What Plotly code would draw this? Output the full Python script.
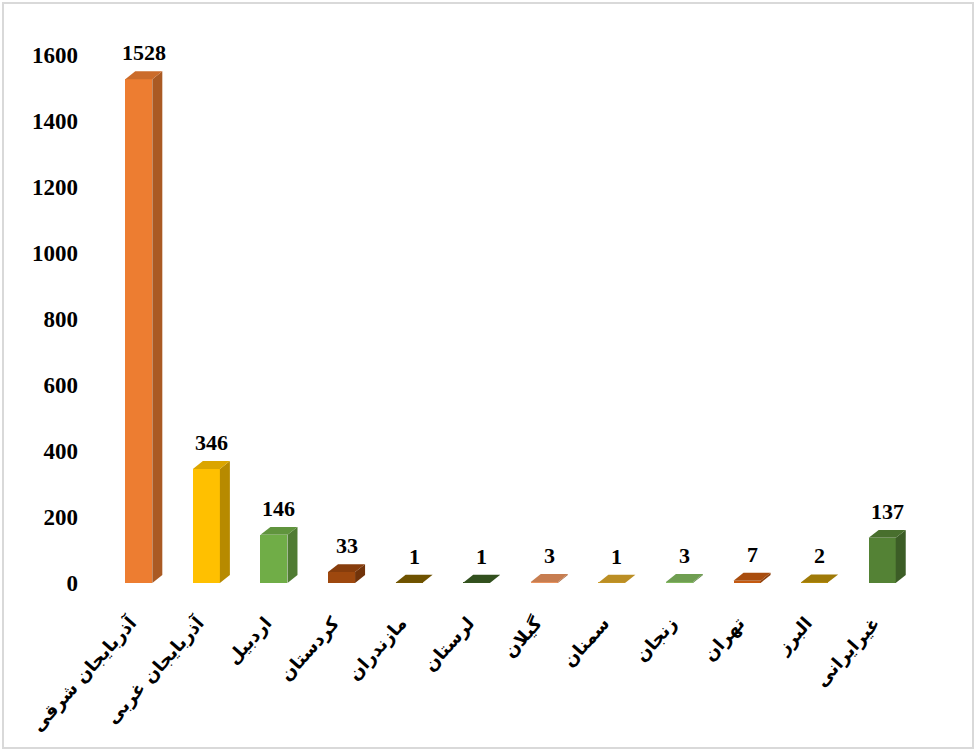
import plotly.graph_objects as go

categories = ["آذربایجان شرقی", "آذربایجان غربی", "اردبیل", "کردستان", "مازندران", "لرستان",
              "گیلان", "سمنان", "زنجان", "تهران", "البرز", "غیرایرانی"]
values = [1528, 346, 146, 33, 1, 1, 3, 1, 3, 7, 2, 137]
front_colors = ["#ED7D31", "#FFC000", "#70AD47", "#9E480E", "#806000", "#3B5E23",
                "#E8925E", "#DAA62A", "#82B85F", "#C55A11", "#B98F0A", "#548235"]
y_ticks = [0, 200, 400, 600, 800, 1000, 1200, 1400, 1600]

W, H = 977, 752
ML, MR, MT, MB = 105, 61, 30, 169
Y_MAX = 1677
BAR_W = 0.40
DX = 0.148   # depth offset in category units
DY = 24      # depth offset in value units
LABEL_SHIFT = 0.12


def shade(hexc, f):
    h = hexc.lstrip("#")
    r, g, b = (int(h[i:i + 2], 16) for i in (0, 2, 4))
    return "#%02X%02X%02X" % (int(r * f), int(g * f), int(b * f))


fig = go.Figure()
xs = list(range(len(categories)))

fig.add_trace(go.Bar(x=xs, y=values, width=BAR_W, marker=dict(color=front_colors, line=dict(width=0)),
                     hoverinfo="skip", showlegend=False))

for i, (v, c) in enumerate(zip(values, front_colors)):
    x0, x1 = i - BAR_W / 2, i + BAR_W / 2
    # side face
    fig.add_trace(go.Scatter(x=[x1, x1 + DX, x1 + DX, x1, x1], y=[0, DY, v + DY, v, 0],
                             mode="lines", fill="toself", fillcolor=shade(c, 0.72),
                             line=dict(width=0, color=shade(c, 0.72)), hoverinfo="skip", showlegend=False))
    # top face
    fig.add_trace(go.Scatter(x=[x0, x1, x1 + DX, x0 + DX, x0], y=[v, v, v + DY, v + DY, v],
                             mode="lines", fill="toself", fillcolor=shade(c, 0.86),
                             line=dict(width=0, color=shade(c, 0.86)), hoverinfo="skip", showlegend=False))
    fig.add_annotation(x=i + DX / 2, y=v + DY, text="<b>%d</b>" % v, showarrow=False,
                       yanchor="bottom", yshift=4,
                       font=dict(family="Liberation Serif", size=22, color="black"))

pw = W - ML - MR
ph = H - MT - MB
fig.add_shape(type="rect", xref="paper", yref="paper",
              x0=(3 - ML) / pw, x1=(W - 4 - ML) / pw,
              y0=(H - MB - (H - 4)) / ph, y1=(H - MB - 3) / ph,
              line=dict(color="#D9D9D9", width=2), fillcolor="rgba(0,0,0,0)", layer="below")

fig.update_layout(
    width=W, height=H,
    margin=dict(l=ML, r=MR, t=MT, b=MB),
    paper_bgcolor="white", plot_bgcolor="white",
    bargap=0,
    xaxis=dict(range=[-0.5, len(categories) - 0.5], tickmode="array",
               tickvals=[x - LABEL_SHIFT for x in xs],
               ticktext=["<b>%s</b>" % c for c in categories], tickangle=-48,
               showgrid=False, zeroline=False, showline=False, ticks="",
               ticklabelstandoff=25,
               tickfont=dict(family="DejaVu Sans", size=18, color="black")),
    yaxis=dict(range=[0, Y_MAX], tickmode="array", tickvals=y_ticks,
               ticktext=["<b>%d</b>" % t for t in y_ticks],
               showgrid=False, zeroline=False, showline=False, ticks="",
               ticklabelstandoff=26,
               tickfont=dict(family="Liberation Serif", size=23, color="black")),
)

fig.write_html("out.html", config={"displayModeBar": False},
               post_script="document.body.style.margin='0';document.body.style.overflow='hidden';")
